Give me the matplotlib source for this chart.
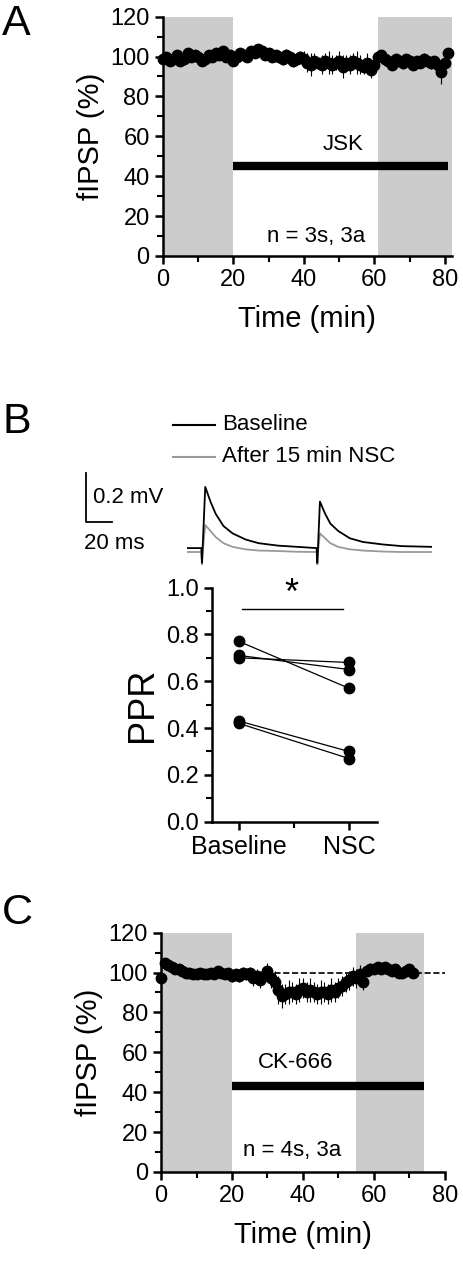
import matplotlib
matplotlib.use("Agg")
import matplotlib.pyplot as plt
import numpy as np

plt.rcParams['font.family'] = ['Liberation Sans', 'DejaVu Sans']

# Panel A data (1 point per min)
a_time = list(range(0, 82))
a_vals = [99, 100, 98, 99, 101, 98, 99, 102, 100, 101, 100, 98, 99, 101, 100, 102, 101, 103, 100, 101,
          98, 100, 102, 101, 100, 103, 102, 104, 103, 101, 102, 100, 101, 100, 99, 101, 100, 98, 99, 100,
          99, 97, 96, 98, 97, 96, 98, 97, 96, 97, 98, 95, 97, 96, 98, 97, 96, 95, 97, 93, 96, 100,
          101, 99, 98, 96, 99, 98, 97, 99, 98, 96, 98, 97, 99, 98, 97, 98, 96, 92, 97, 102]
a_err = [1, 1, 1, 1, 1, 1, 1, 1, 1, 1, 1, 1, 1, 1, 1, 1, 1, 1, 1, 1,
         2, 2, 2, 2, 2, 2, 2, 2, 2, 2, 2, 2, 2, 2, 3, 3, 3, 3, 3, 3,
         4, 5, 6, 4, 3, 5, 4, 6, 5, 4, 5, 6, 4, 5, 4, 6, 5, 4, 5, 4, 3, 2,
         2, 2, 3, 3, 2, 2, 3, 2, 2, 3, 2, 2, 3, 2, 3, 2, 3, 6, 3, 2]

# Panel C data
c_time = list(range(0, 72))
c_vals = [97, 105, 104, 103, 102, 102, 101, 100, 100, 99, 99, 100, 99, 99, 100, 99, 101, 100, 99, 100,
          98, 99, 98, 100, 99, 100, 97, 98, 96, 98, 101, 97, 95, 91, 88, 89, 90, 90, 89, 91,
          92, 90, 91, 90, 89, 90, 90, 89, 91, 90, 92, 93, 95, 96, 98, 97, 99, 95, 101, 102,
          102, 103, 102, 103, 102, 101, 102, 100, 100, 101, 102, 100]
c_err = [3, 2, 2, 2, 2, 2, 2, 2, 2, 2, 2, 2, 2, 2, 2, 2, 2, 2, 2, 2,
         3, 3, 3, 3, 3, 3, 4, 4, 4, 4, 4, 5, 6, 7, 6, 5, 6, 5, 5, 6,
         5, 5, 6, 5, 5, 6, 5, 5, 6, 5, 5, 5, 5, 5, 5, 5, 5, 4, 3, 3,
         2, 2, 2, 2, 2, 2, 2, 2, 2, 2, 2, 2]

# Panel B PPR
ppr_base = [0.77, 0.71, 0.70, 0.43, 0.42]
ppr_nsc = [0.57, 0.65, 0.68, 0.30, 0.27]
ppr_labels = ['Baseline', 'NSC']

# Traces (ms, mV relative to baseline)
tr_t =    [0, 11, 11.5, 12, 14, 18, 22, 28, 35, 45, 55, 70, 85, 99.5, 100, 100.5, 102, 106, 110, 116, 125, 135, 150, 165, 188]
tr_base = [0, 0, -0.06, 0.0, 0.25, 0.19, 0.14, 0.09, 0.06, 0.035, 0.02, 0.01, 0.005, 0.0, -0.06, 0.0, 0.19, 0.14, 0.10, 0.07, 0.04, 0.025, 0.015, 0.008, 0.005]
tr_nsc =  [-0.016, -0.016, -0.07, -0.016, 0.094, 0.07, 0.045, 0.02, 0.005, -0.005, -0.01, -0.012, -0.015, -0.016, -0.07, -0.016, 0.06, 0.04, 0.02, 0.005, -0.005, -0.01, -0.014, -0.016, -0.016]

fig = plt.figure(figsize=(4.64, 12.8), dpi=100)

def style(ax):
    for sp in ['top', 'right']:
        ax.spines[sp].set_visible(False)
    for sp in ['left', 'bottom']:
        ax.spines[sp].set_linewidth(1.8)
    ax.tick_params(width=1.8, length=6, labelsize=17)
    ax.tick_params(which='minor', width=1.5, length=4)

def time_panel(rect, xmax, t, v, e, shades, bar, barlab, ntext, dashed=False):
    ax = fig.add_axes(rect)
    for s0, s1 in shades:
        ax.axvspan(s0, s1, color='#cccccc', lw=0, zorder=0)
    if dashed:
        ax.plot([22, 80], [100, 100], 'k--', lw=1.2, zorder=1)
    ax.errorbar(t, v, yerr=e, fmt='o', color='k', ms=7.5, elinewidth=0.8, capsize=0, zorder=3, clip_on=False)
    ax.plot(bar, [barlab[1], barlab[1]], color='k', lw=6, solid_capstyle='butt')
    ax.text(barlab[2], barlab[3], barlab[0], ha='center', va='center', fontsize=16)
    ax.text(ntext[1], ntext[2], ntext[0], ha='center', va='center', fontsize=16)
    ax.set_xlim(0, xmax)
    ax.set_ylim(0, 120)
    ax.set_xticks([0, 20, 40, 60, 80])
    ax.set_yticks(range(0, 121, 20))
    ax.set_yticks(range(10, 120, 20), minor=True)
    ax.set_xticks(range(10, 81, 20), minor=True)
    style(ax)
    ax.set_xlabel('Time (min)', fontsize=21, labelpad=10)
    ax.set_ylabel('fIPSP (%)', fontsize=21)
    return ax

time_panel([0.351, 0.8, 0.623, 0.187], 82, a_time, a_vals, a_err, [(0, 20), (61, 82)], (20, 81),
           ('JSK', 45, 51, 56), ('n = 3s, 3a', 43.5, 10))
time_panel([0.347, 0.0844, 0.612, 0.187], 80, c_time, c_vals, c_err, [(0, 20), (55, 74)], (20, 74),
           ('CK-666', 43, 38, 55), ('n = 4s, 3a', 37, 11), dashed=True)

# traces
axt = fig.add_axes([187 / 464, 1 - 565 / 1280, 245 / 464, 85 / 1280])
axt.plot(tr_t, tr_nsc, color='#999999', lw=1.3)
axt.plot(tr_t, tr_base, color='k', lw=1.3)
axt.set_xlim(0, 188)
axt.set_ylim(-0.069, 0.278)
axt.axis('off')
axt.plot([-77.7, -77.7, -57.7], [0.306, 0.106, 0.106], color='k', lw=1.3, clip_on=False)
axt.text(-72.5, 0.205, '0.2 mV', fontsize=16, va='center', clip_on=False)
axt.text(-79, 0.02, '20 ms', fontsize=16, va='center', clip_on=False)

# legend
fig.lines.append(plt.Line2D([173 / 464, 215 / 464], [1 - 425 / 1280] * 2, color='k', lw=1.5, transform=fig.transFigure))
fig.lines.append(plt.Line2D([173 / 464, 215 / 464], [1 - 457 / 1280] * 2, color='#999999', lw=1.5, transform=fig.transFigure))
fig.text(222 / 464, 1 - 425 / 1280, 'Baseline', fontsize=16, va='center')
fig.text(222 / 464, 1 - 457 / 1280, 'After 15 min NSC', fontsize=16, va='center')

# PPR
axb = fig.add_axes([212 / 464, 0.358, 165 / 464, 0.183])
for b, n in zip(ppr_base, ppr_nsc):
    axb.plot([0, 1], [b, n], color='k', lw=0.9)
axb.plot([0] * len(ppr_base), ppr_base, 'o', color='k', ms=7.5, clip_on=False)
axb.plot([1] * len(ppr_nsc), ppr_nsc, 'o', color='k', ms=7.5, clip_on=False)
axb.plot([0.03, 0.95], [0.91, 0.91], color='k', lw=1)
axb.text(0.48, 0.895, '*', ha='center', va='bottom', fontsize=26)
axb.set_xlim(-0.245, 1.255)
axb.set_ylim(0, 1.0)
axb.set_xticks([0, 1])
axb.set_xticklabels(ppr_labels)
axb.set_xticks([0.5], minor=True)
axb.set_yticks(np.arange(0, 1.01, 0.2))
axb.set_yticklabels(['%.1f' % v for v in np.arange(0, 1.01, 0.2)])
axb.set_yticks(np.arange(0.1, 1.0, 0.2), minor=True)
style(axb)
axb.tick_params(axis='x', labelsize=18)
axb.set_ylabel('PPR', fontsize=26)

fig.text(0.005, 0.997, 'A', fontsize=31, va='top')
fig.text(0.005, 0.686, 'B', fontsize=31, va='top')
fig.text(0.005, 0.302, 'C', fontsize=31, va='top')

fig.savefig('out.png', dpi=100)
